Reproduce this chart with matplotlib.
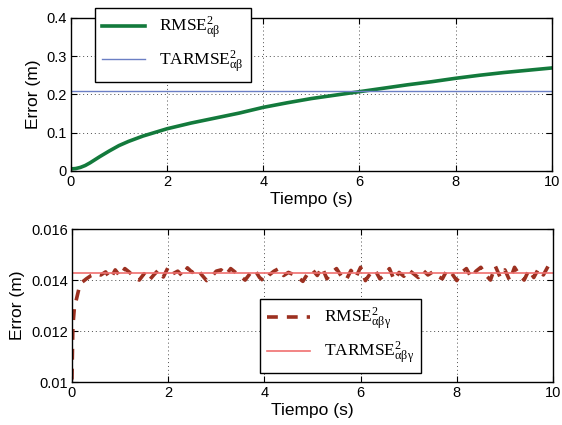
import numpy as np
import matplotlib
matplotlib.use('Agg')
import matplotlib.pyplot as plt

plt.rcParams['font.family'] = 'Liberation Sans'
plt.rcParams['mathtext.fontset'] = 'custom'
plt.rcParams['mathtext.rm'] = 'Liberation Serif'
plt.rcParams['mathtext.it'] = 'Liberation Serif:italic'
plt.rcParams['mathtext.bf'] = 'Liberation Serif:bold'

# top panel data
t_top = [0, 0.1, 0.2, 0.3, 0.4, 0.5, 0.6, 0.8, 1.0, 1.2, 1.5, 2.0, 2.5, 3.0, 3.5, 4.0,
         4.5, 5.0, 5.5, 6.0, 6.5, 7.0, 7.5, 8.0, 8.5, 9.0, 9.5, 10.0]
rmse_ab = [0.005, 0.006, 0.009, 0.014, 0.021, 0.029, 0.037, 0.052, 0.066, 0.077, 0.091, 0.110,
           0.125, 0.138, 0.151, 0.166, 0.178, 0.189, 0.198, 0.207, 0.216, 0.225, 0.233,
           0.242, 0.250, 0.257, 0.263, 0.269]
tarmse_ab = 0.208

# bottom panel data
t_start = [0, 0.02, 0.05, 0.1, 0.15, 0.2, 0.3, 0.4, 0.5]
rmse_start = [0.0101, 0.0122, 0.0129, 0.0133, 0.0137, 0.0139, 0.01405, 0.01418, 0.01425]
rmse_noise = [0.01420, 0.01432, 0.01405, 0.01440, 0.01415, 0.01445, 0.01430, 0.01410, 0.01400, 0.01425,
              0.01398, 0.01420, 0.01440, 0.01412, 0.01450, 0.01425, 0.01435, 0.01415, 0.01448, 0.01430,
              0.01445, 0.01420, 0.01398, 0.01412, 0.01435, 0.01440, 0.01420, 0.01445, 0.01430, 0.01415,
              0.01400, 0.01425, 0.01440, 0.01410, 0.01395, 0.01420, 0.01435, 0.01445, 0.01418, 0.01430,
              0.01422, 0.01410, 0.01395, 0.01425, 0.01440, 0.01418, 0.01450, 0.01405, 0.01430, 0.01445,
              0.01415, 0.01400, 0.01438, 0.01410, 0.01450, 0.01398, 0.01425, 0.01440, 0.01405, 0.01420,
              0.01445, 0.01400, 0.01430, 0.01415, 0.01440, 0.01425, 0.01410, 0.01438, 0.01420, 0.01432,
              0.01415, 0.01405, 0.01440, 0.01425, 0.01398, 0.01430, 0.01445, 0.01410, 0.01435, 0.01450,
              0.01420, 0.01400, 0.01455, 0.01412, 0.01440, 0.01398, 0.01450, 0.01420, 0.01400, 0.01440,
              0.01410, 0.01445, 0.01420, 0.01455, 0.01430]
t_noise = np.round(np.arange(0.6, 10.01, 0.1), 2)
tarmse_abg = 0.01428

t_bot = list(t_start) + list(t_noise)
rmse_abg = rmse_start + rmse_noise

fig = plt.figure(figsize=(5.62, 4.25), dpi=100)
ax1 = fig.add_axes([0.126, 0.598, 0.856, 0.360])
ax2 = fig.add_axes([0.128, 0.101, 0.856, 0.360])

leg_font = {'family': 'Liberation Serif', 'size': 12.5}
leg_opts = dict(prop=leg_font, fancybox=False, edgecolor='black', framealpha=1,
                handlelength=2.5, borderpad=0.4, labelspacing=0.45, borderaxespad=0)

ax1.plot(t_top, rmse_ab, color='#137a3c', lw=2.6, label=r'RMSE$^{2}_{\mathrm{\alpha\beta}}$')
ax1.axhline(tarmse_ab, color='#6b7fc4', lw=1.0, label=r'TARMSE$^{2}_{\mathrm{\alpha\beta}}$')
ax1.set_xlim(0, 10)
ax1.set_ylim(0, 0.4)
ax1.set_yticks([0, 0.1, 0.2, 0.3, 0.4])
ax1.set_yticklabels(['0', '0.1', '0.2', '0.3', '0.4'])
ax1.set_xlabel('Tiempo (s)', fontsize=12.5, labelpad=2)
ax1.set_ylabel('Error (m)', fontsize=12.5, labelpad=4)
ax1.legend(loc='upper left', bbox_to_anchor=(0.05, 1.065), **leg_opts)

ax2.plot(t_bot, rmse_abg, color='#9c3020', lw=2.6, ls=(0, (3, 2.5)),
         label=r'RMSE$^{2}_{\mathrm{\alpha\beta\gamma}}$')
ax2.axhline(tarmse_abg, color='#f07070', lw=1.2, label=r'TARMSE$^{2}_{\mathrm{\alpha\beta\gamma}}$')
ax2.set_xlim(0, 10)
ax2.set_ylim(0.01, 0.016)
ax2.set_yticks([0.01, 0.012, 0.014, 0.016])
ax2.set_yticklabels(['0.01', '0.012', '0.014', '0.016'])
ax2.set_xlabel('Tiempo (s)', fontsize=12.5, labelpad=2)
ax2.set_ylabel('Error (m)', fontsize=12.5, labelpad=4)
ax2.legend(loc='upper left', bbox_to_anchor=(0.391, 0.542), **leg_opts)

for ax in (ax1, ax2):
    ax.set_xticks([0, 2, 4, 6, 8, 10])
    ax.grid(True, ls=(0, (1, 3)), color='0.3', lw=0.7)
    ax.tick_params(direction='in', labelsize=10.5, top=True, right=True, length=4, pad=3)
    for s in ax.spines.values():
        s.set_linewidth(1.0)

fig.savefig('out.png', dpi=100)
